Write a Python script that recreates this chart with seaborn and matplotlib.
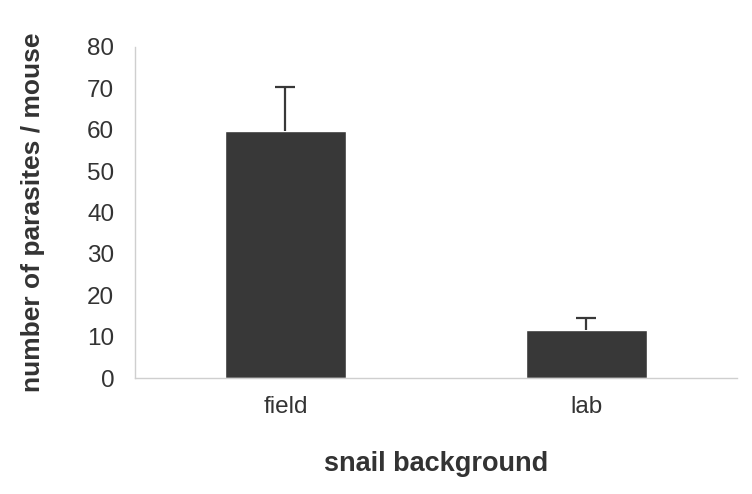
import numpy as np
import pandas as pd
import matplotlib
matplotlib.use("Agg")
import matplotlib.pyplot as plt
import seaborn as sns

# values
categories = ["field", "lab"]
means = [59.6, 11.7]
err_upper = [10.8, 2.7]
y_ticks = [0, 10, 20, 30, 40, 50, 60, 70, 80]

sns.set_style("white")
plt.rcParams["font.family"] = ["Liberation Sans", "DejaVu Sans"]

bar_color = "#383838"
spine_color = "#cfcfcf"
text_color = "#333333"

df = pd.DataFrame({"background": categories, "parasites": means})

fig = plt.figure(figsize=(7.52, 4.94), dpi=100)
ax = fig.add_axes([0.1795, 0.2348, 0.8005, 0.6701])

sns.barplot(data=df, x="background", y="parasites", color=bar_color,
            saturation=1, width=0.405, errorbar=None, ax=ax)

# upward-only error bars
yerr = np.array([np.zeros(len(err_upper)), err_upper])
_, caps, _ = ax.errorbar(np.arange(len(categories)), means, yerr=yerr, fmt="none",
                         ecolor=bar_color, elinewidth=1.6, capsize=7, capthick=1.6)
caps[0].set_visible(False)  # drop the lower caps sitting on the bar tops

ax.set_xlim(-0.5, len(categories) - 0.5)
ax.set_ylim(0, 80)
ax.set_yticks(y_ticks)
ax.set_yticklabels([str(t) for t in y_ticks])

# x ticks at category boundaries, labels at centers
ax.set_xticks(np.arange(len(categories) + 1) - 0.5)
ax.set_xticklabels([])
ax.set_xticks(np.arange(len(categories)), minor=True)
ax.set_xticklabels(categories, minor=True)
ax.tick_params(axis="x", which="major", length=5, color=spine_color, direction="out")
ax.tick_params(axis="x", which="minor", length=0, labelsize=17.5,
               labelcolor=text_color, pad=13)
ax.tick_params(axis="y", length=6, color=spine_color, direction="out",
               labelsize=17.5, labelcolor=text_color, pad=9)

for side in ["top", "right"]:
    ax.spines[side].set_visible(False)
for side in ["left", "bottom"]:
    ax.spines[side].set_color(spine_color)
    ax.spines[side].set_linewidth(1.0)

ax.set_xlabel("snail background", fontsize=19.5, fontweight="bold",
              color=text_color, labelpad=24)
ax.set_ylabel("number of parasites / mouse", fontsize=19, fontweight="bold",
              color=text_color, labelpad=30)

fig.savefig("out.png", dpi=100, facecolor="white")
